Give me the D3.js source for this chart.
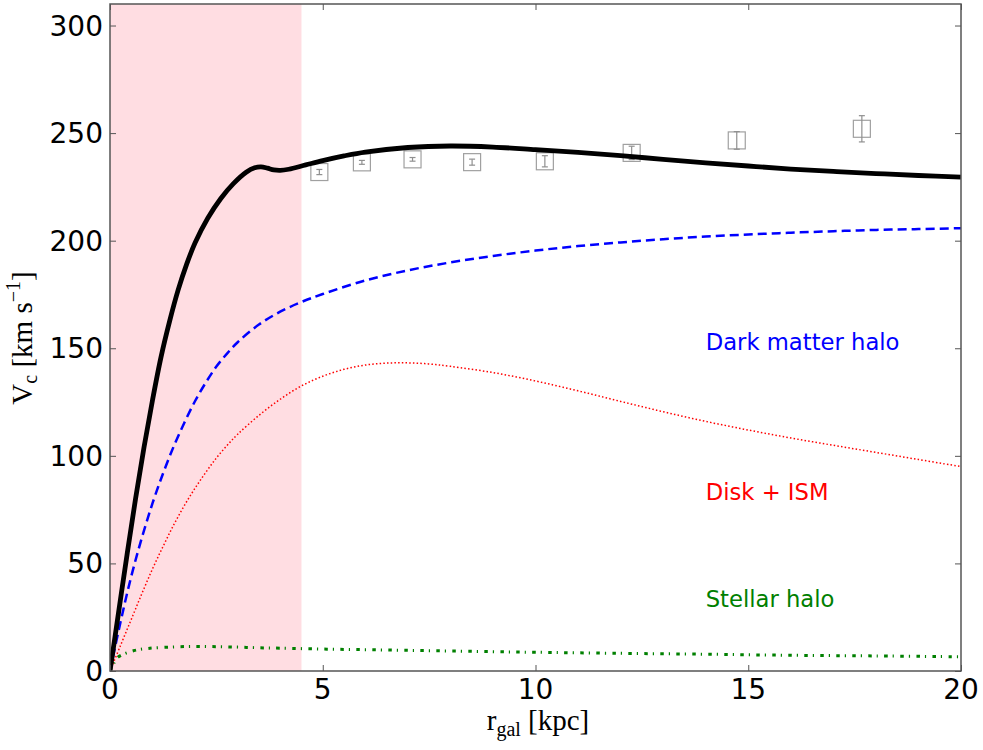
<!DOCTYPE html>
<html>
<head>
<meta charset="utf-8">
<script src="https://cdn.jsdelivr.net/npm/d3@7"></script>
<style>
  html, body { margin: 0; padding: 0; background: #fff; }
  svg { display: block; }
</style>
</head>
<body>
<svg id="chart" width="983" height="750"></svg>
<script>
// ---- Data ----
const xTicks = [0, 5, 10, 15, 20];
const yTicks = [0, 50, 100, 150, 200, 250, 300];
const shadeRange = [0, 4.5];

// Total rotation curve
const totalR = [0, 0.2, 0.4, 0.6, 0.8, 1.0, 1.2, 1.4, 1.6, 1.8, 2.0, 2.3, 2.6, 2.9, 3.2, 3.4, 3.55, 3.7, 3.85, 4.0, 4.2, 4.6, 5, 5.5, 6, 7, 8, 9, 10, 11, 12, 13, 14, 15, 16, 17, 18, 19, 20];
const totalV = [0, 27, 54, 80, 104, 126, 146, 162.5, 177, 189, 199, 210.5, 219.5, 226.5, 231.8, 233.9, 234.3, 233.7, 232.9, 232.7, 233.2, 235.2, 237.2, 239.4, 241.2, 243.3, 244, 243.5, 242.3, 241, 239.5, 237.8, 236.2, 234.7, 233.3, 232.2, 231.2, 230.3, 229.5];

// Dark matter halo
const dmR = [0, 0.25, 0.5, 0.75, 1.0, 1.25, 1.5, 1.75, 2.0, 2.25, 2.5, 2.75, 3.0, 3.5, 4.0, 4.5, 5, 6, 7, 8, 9, 10, 11, 12, 13, 14, 15, 16, 17, 18, 19, 20];
const dmV = [0, 23, 44, 62, 78, 92, 104.5, 115.5, 125.5, 134, 141.5, 147.5, 152.8, 161, 167, 171.5, 175.2, 181.5, 186.2, 189.9, 192.9, 195.4, 197.5, 199.2, 200.7, 201.9, 202.9, 203.7, 204.4, 205, 205.4, 205.8];

// Disk + ISM
const diskR = [0, 0.25, 0.5, 0.75, 1.0, 1.25, 1.5, 1.75, 2.0, 2.25, 2.5, 2.75, 3.0, 3.5, 4.0, 4.5, 5.0, 5.5, 6.0, 6.5, 7.0, 7.5, 8, 9, 10, 11, 12, 13, 14, 15, 16, 17, 18, 19, 20];
const diskV = [0, 12, 24, 36, 47.5, 58, 68, 77, 85, 92.3, 99, 104.8, 110, 118.8, 126.3, 132.5, 137, 140.2, 142.2, 143.1, 143.2, 142.7, 141.6, 138.7, 134.8, 130.2, 125.3, 120.5, 116, 112, 108.3, 104.9, 101.6, 98.3, 95];

// Stellar halo
const shR = [0, 0.1, 0.2, 0.55, 0.9, 1.5, 2.0, 2.5, 3, 3.5, 4, 5, 6, 7, 8, 9, 10, 12, 14, 16, 18, 20];
const shV = [0, 4, 6.6, 9.4, 10.5, 11.2, 11.4, 11.3, 11.1, 10.8, 10.6, 10.2, 9.9, 9.6, 9.3, 9.0, 8.7, 8.2, 7.8, 7.3, 7.0, 6.6];

// Observed points
const obsR = [4.92, 5.92, 7.11, 8.51, 10.22, 12.26, 14.73, 17.67];
const obsV = [231.9, 236.4, 237.8, 236.5, 236.9, 240.8, 246.6, 252.0];
const obsErr = [1.2, 0.9, 0.85, 1.4, 2.6, 3.1, 4.1, 6.1];

// Labels
const labels = [
  { text: "Dark matter halo", x: 14.0, y: 149.4, color: "#0000ff" },
  { text: "Disk + ISM", x: 14.0, y: 79.6, color: "#ff0000" },
  { text: "Stellar halo", x: 14.0, y: 29.6, color: "#008000" }
];

(function () {
// ---- Layout ----
const pL = 110, pR = 961, pT = 4, pB = 671;
const svg = d3.select("#chart");
const x = d3.scaleLinear().domain([0, 20]).range([pL, pR]);
const y = d3.scaleLinear().domain([0, 310]).range([pB, pT]);

// shaded region
svg.append("rect")
  .attr("x", x(shadeRange[0])).attr("y", pT)
  .attr("width", x(shadeRange[1]) - x(shadeRange[0]))
  .attr("height", pB - pT)
  .attr("fill", "#ffdde2");

svg.append("defs").append("clipPath").attr("id", "clip")
  .append("rect").attr("x", pL).attr("y", pT).attr("width", pR - pL).attr("height", pB - pT);

const plot = svg.append("g").attr("clip-path", "url(#clip)");

const line = (rs, vs) => d3.line()
  .x(i => x(rs[i])).y(i => y(vs[i]))
  .curve(d3.curveCatmullRom.alpha(0.5))(d3.range(rs.length));

// stellar halo
plot.append("path").attr("d", line(shR, shV))
  .attr("fill", "none").attr("stroke", "#008000").attr("stroke-width", 3)
  .attr("stroke-dasharray", "3.5,5,1.2,6.3");
// disk
plot.append("path").attr("d", line(diskR, diskV))
  .attr("fill", "none").attr("stroke", "#ff0000").attr("stroke-width", 1.5)
  .attr("stroke-dasharray", "1.5,2.2");
// dark matter
plot.append("path").attr("d", line(dmR, dmV))
  .attr("fill", "none").attr("stroke", "#0000ff").attr("stroke-width", 2.5)
  .attr("stroke-dasharray", "9,5");

// observed points
const obs = plot.append("g");
obsR.forEach((r, i) => {
  const cx = x(r), cy = y(obsV[i]);
  const y1 = y(obsV[i] + obsErr[i]), y2 = y(obsV[i] - obsErr[i]);
  obs.append("rect").attr("x", cx - 8.5).attr("y", cy - 8.5).attr("width", 17).attr("height", 17)
    .attr("fill", "none").attr("stroke", "#a0a0a0").attr("stroke-width", 1.2);
  obs.append("line").attr("x1", cx).attr("x2", cx).attr("y1", y1).attr("y2", y2)
    .attr("stroke", "#909090").attr("stroke-width", 1.2);
  [y1, y2].forEach(yy => obs.append("line").attr("x1", cx - 3).attr("x2", cx + 3).attr("y1", yy).attr("y2", yy)
    .attr("stroke", "#909090").attr("stroke-width", 1.2));
});

// total
plot.append("path").attr("d", line(totalR, totalV))
  .attr("fill", "none").attr("stroke", "#000").attr("stroke-width", 4.8)
  .attr("stroke-linejoin", "round");

// frame
svg.append("rect").attr("x", pL).attr("y", pT).attr("width", pR - pL).attr("height", pB - pT)
  .attr("fill", "none").attr("stroke", "#555").attr("stroke-width", 1.5);

// ticks (inward) using axes
const tickLen = 6;
const axB = svg.append("g").attr("transform", `translate(0,${pB})`)
  .call(d3.axisTop(x).tickValues(xTicks).tickSize(tickLen).tickFormat(""));
const axT = svg.append("g").attr("transform", `translate(0,${pT})`)
  .call(d3.axisBottom(x).tickValues(xTicks).tickSize(tickLen).tickFormat(""));
const axL = svg.append("g").attr("transform", `translate(${pL},0)`)
  .call(d3.axisRight(y).tickValues(yTicks).tickSize(tickLen).tickFormat(""));
const axR = svg.append("g").attr("transform", `translate(${pR},0)`)
  .call(d3.axisLeft(y).tickValues(yTicks).tickSize(tickLen).tickFormat(""));
[axB, axT, axL, axR].forEach(a => {
  a.select(".domain").remove();
  a.selectAll(".tick line").attr("stroke", "#555").attr("stroke-width", 1);
});

// tick labels
const tickFont = "DejaVu Sans, sans-serif";
svg.append("g").selectAll("text").data(xTicks).join("text")
  .attr("x", d => x(d)).attr("y", 699)
  .attr("text-anchor", "middle").attr("font-family", tickFont).attr("font-size", 28)
  .attr("fill", "#000").text(d => d);
svg.append("g").selectAll("text").data(yTicks).join("text")
  .attr("x", 103).attr("y", d => y(d)).attr("dy", "0.36em")
  .attr("text-anchor", "end").attr("font-family", tickFont).attr("font-size", 28)
  .attr("fill", "#000").text(d => d);

// annotations
svg.append("g").selectAll("text").data(labels).join("text")
  .attr("x", d => x(d.x)).attr("y", d => y(d.y))
  .attr("font-family", tickFont).attr("font-size", 22.7)
  .attr("fill", d => d.color).text(d => d.text);

// axis labels (serif, math style)
const serif = "Liberation Serif, DejaVu Serif, serif";
const xl = svg.append("text").attr("x", 538).attr("y", 730)
  .attr("text-anchor", "middle").attr("font-family", serif).attr("font-size", 29).attr("fill", "#000");
xl.append("tspan").text("r");
xl.append("tspan").attr("font-size", 20).attr("dy", 6).text("gal");
xl.append("tspan").attr("dy", -6).text(" [kpc]");

const yl = svg.append("text").attr("transform", "translate(32,338) rotate(-90)")
  .attr("text-anchor", "middle").attr("font-family", serif).attr("font-size", 29).attr("fill", "#000");
yl.append("tspan").text("V");
yl.append("tspan").attr("font-size", 20).attr("dy", 5).text("c");
yl.append("tspan").attr("dy", -5).text(" [km s");
yl.append("tspan").attr("font-size", 20).attr("dy", -12).text("\u22121");
yl.append("tspan").attr("dy", 12).text("]");
})();
</script>
</body>
</html>
